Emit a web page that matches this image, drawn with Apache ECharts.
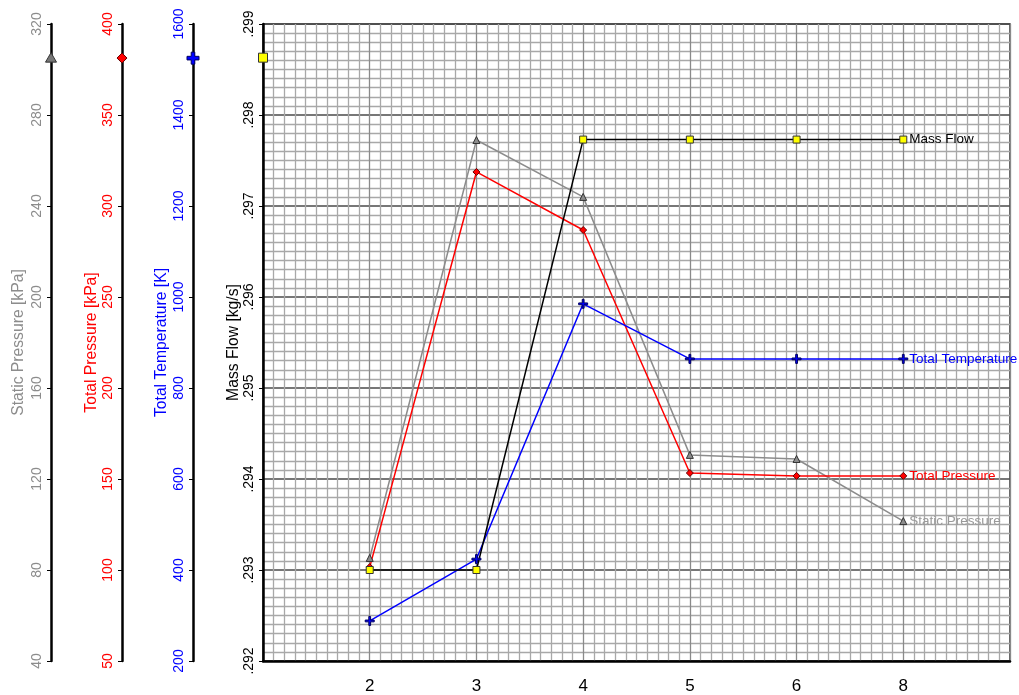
<!DOCTYPE html>
<html>
<head>
<meta charset="utf-8">
<script src="https://cdn.jsdelivr.net/npm/echarts@6/dist/echarts.min.js"></script>
<style>html,body{margin:0;padding:0;background:#fff}#c{width:1019px;height:695px}</style>
</head>
<body>
<div id="c"></div>
<script>
// ---- data ----
var xPositions = [2, 3, 4, 5, 6, 7];
var xTickLabels = {2: '2', 3: '3', 4: '4', 5: '5', 6: '6', 7: '8'};
var massFlow = [0.2930, 0.2930, 0.29773, 0.29773, 0.29773, 0.29773];
var totalTemperature = [288, 424, 985, 864, 864, 864];
var totalPressure = [101.6, 318.7, 286.8, 153.3, 151.7, 151.7];
var staticPressure = [85.3, 269, 244, 130.6, 128.8, 101.5];
var axisMarkers = [0.29863, 1525, 381.3, 305]; // massFlow, totalTemp, totalPressure, staticPressure

var FONT = 'Liberation Sans, Arial, sans-serif';
var GRID_LEFT = 263;
var offsets = [0, 70, 141, 212];

function pairs(vals) { return xPositions.map(function (x, i) { return [x, vals[i]]; }); }

var chart = echarts.init(document.getElementById('c'), null, {renderer: 'canvas'});

function yAxis(opts) {
  var base = {
    type: 'value', position: 'left', offset: opts.offset,
    min: opts.min, max: opts.max, interval: opts.interval,
    name: opts.name, nameLocation: 'middle', nameGap: opts.nameGap,
    nameRotate: 90, nameMoveOverlap: false,
    nameTextStyle: {color: opts.color, fontSize: 15.7, fontFamily: FONT},
    axisLine: {show: true, onZero: false, lineStyle: {color: '#000', width: 2.5}},
    axisTick: {show: true, length: 4, lineStyle: {color: '#000', width: 1}},
    axisLabel: {color: opts.color, fontSize: 14, fontFamily: FONT, rotate: 90, margin: 6.5,
      formatter: opts.formatter || function (v) { return String(v); }},
    splitLine: {show: false}
  };
  if (opts.grid) {
    base.splitLine = {show: true, lineStyle: {color: '#4a4a4a', width: 1.5}};
    base.minorTick = {show: true, splitNumber: 10, length: 0};
    base.minorSplitLine = {show: true, lineStyle: {color: '#a8a8a8', width: 1.3}};
  }
  return base;
}

var option = {
  animation: false,
  backgroundColor: '#fff',
  textStyle: {fontFamily: FONT},
  grid: {left: GRID_LEFT, right: 9, top: 24, bottom: 34, show: true, borderColor: '#333', borderWidth: 1.5,
    containLabel: false, outerBoundsMode: 'none'},
  xAxis: {
    type: 'value', min: 1, max: 8, interval: 1,
    axisLine: {show: true, onZero: false, lineStyle: {color: '#000', width: 2.5}},
    axisTick: {show: false},
    axisLabel: {color: '#000', fontSize: 17, fontFamily: FONT, margin: 17,
      formatter: function (v) { return xTickLabels[v] || ''; }},
    splitLine: {show: true, lineStyle: {color: '#8a8a8a', width: 1.3}},
    minorTick: {show: true, splitNumber: 10, length: 0},
    minorSplitLine: {show: true, lineStyle: {color: '#a8a8a8', width: 1.3}}
  },
  yAxis: [
    yAxis({offset: offsets[0], min: 0.292, max: 0.299, interval: 0.001, name: 'Mass Flow [kg/s]', nameGap: 21.5,
      color: '#000', grid: true,
      formatter: function (v) { return v.toFixed(3).replace(/^0/, ''); }}),
    yAxis({offset: offsets[1], min: 200, max: 1600, interval: 200, name: 'Total Temperature [K]', nameGap: 23,
      color: '#0000ff'}),
    yAxis({offset: offsets[2], min: 50, max: 400, interval: 50, name: 'Total Pressure [kPa]', nameGap: 22,
      color: '#ff0000'}),
    yAxis({offset: offsets[3], min: 40, max: 320, interval: 40, name: 'Static Pressure [kPa]', nameGap: 24.5,
      color: '#8c8c8c'})
  ],
  series: [
    {
      name: 'Static Pressure', type: 'line', yAxisIndex: 3, data: pairs(staticPressure),
      symbol: 'triangle', symbolSize: 7,
      lineStyle: {color: '#8c8c8c', width: 1.5},
      itemStyle: {color: '#8c8c8c', borderColor: '#333', borderWidth: 1},
      endLabel: {show: true, formatter: '{a}', color: '#999', fontSize: 13.5, fontFamily: FONT, distance: 6}
    },
    {
      name: 'Total Pressure', type: 'line', yAxisIndex: 2, data: pairs(totalPressure),
      symbol: 'diamond', symbolSize: 7,
      lineStyle: {color: '#ff0000', width: 1.5},
      itemStyle: {color: '#ff0000', borderColor: '#600', borderWidth: 1},
      endLabel: {show: true, formatter: '{a}', color: '#ff0000', fontSize: 13.5, fontFamily: FONT, distance: 6}
    },
    {
      name: 'Total Temperature', type: 'line', yAxisIndex: 1, data: pairs(totalTemperature),
      symbol: 'path://M4,0H6V4H10V6H6V10H4V6H0V4H4Z', symbolSize: 9,
      lineStyle: {color: '#0000ff', width: 1.5},
      itemStyle: {color: '#0000ff', borderColor: '#000060', borderWidth: 1},
      endLabel: {show: true, formatter: '{a}', color: '#0000ff', fontSize: 13.5, fontFamily: FONT, distance: 6}
    },
    {
      name: 'Mass Flow', type: 'line', yAxisIndex: 0, data: pairs(massFlow),
      symbol: 'rect', symbolSize: 7,
      lineStyle: {color: '#000', width: 1.5},
      itemStyle: {color: '#ffff00', borderColor: '#333', borderWidth: 1},
      endLabel: {show: true, formatter: '{a}', color: '#000', fontSize: 13.5, fontFamily: FONT, distance: 6}
    }
  ]
};
chart.setOption(option);

// markers on each y axis line, placed through the library's scales
var markerStyles = [
  {shape: 'rect', fill: '#ffff00', stroke: '#333'},
  {shape: 'plus', fill: '#0000ff', stroke: '#000060'},
  {shape: 'diamond', fill: '#ff0000', stroke: '#600'},
  {shape: 'triangle', fill: '#777', stroke: '#333'}
];
var graphics = [];
axisMarkers.forEach(function (v, i) {
  var y = chart.convertToPixel({yAxisIndex: i}, v);
  var x = chart.convertToPixel({xAxisIndex: 0}, 1) - offsets[i];
  var s = markerStyles[i];
  var st = {fill: s.fill, stroke: s.stroke, lineWidth: 1};
  if (s.shape === 'rect') {
    graphics.push({type: 'rect', shape: {x: x - 4.5, y: y - 4.5, width: 9, height: 9}, style: st, z: 100});
  } else if (s.shape === 'diamond') {
    graphics.push({type: 'polygon', shape: {points: [[x, y - 5], [x + 5, y], [x, y + 5], [x - 5, y]]}, style: st, z: 100});
  } else if (s.shape === 'triangle') {
    graphics.push({type: 'polygon', shape: {points: [[x, y - 5.5], [x + 5.5, y + 4], [x - 5.5, y + 4]]}, style: st, z: 100});
  } else {
    graphics.push({type: 'polygon', shape: {points: [[x - 1.8, y - 6], [x + 1.8, y - 6], [x + 1.8, y - 1.8], [x + 6, y - 1.8], [x + 6, y + 1.8], [x + 1.8, y + 1.8], [x + 1.8, y + 6], [x - 1.8, y + 6], [x - 1.8, y + 1.8], [x - 6, y + 1.8], [x - 6, y - 1.8], [x - 1.8, y - 1.8]]}, style: st, z: 100});
  }
});
chart.setOption({graphic: graphics});
</script>
</body>
</html>
